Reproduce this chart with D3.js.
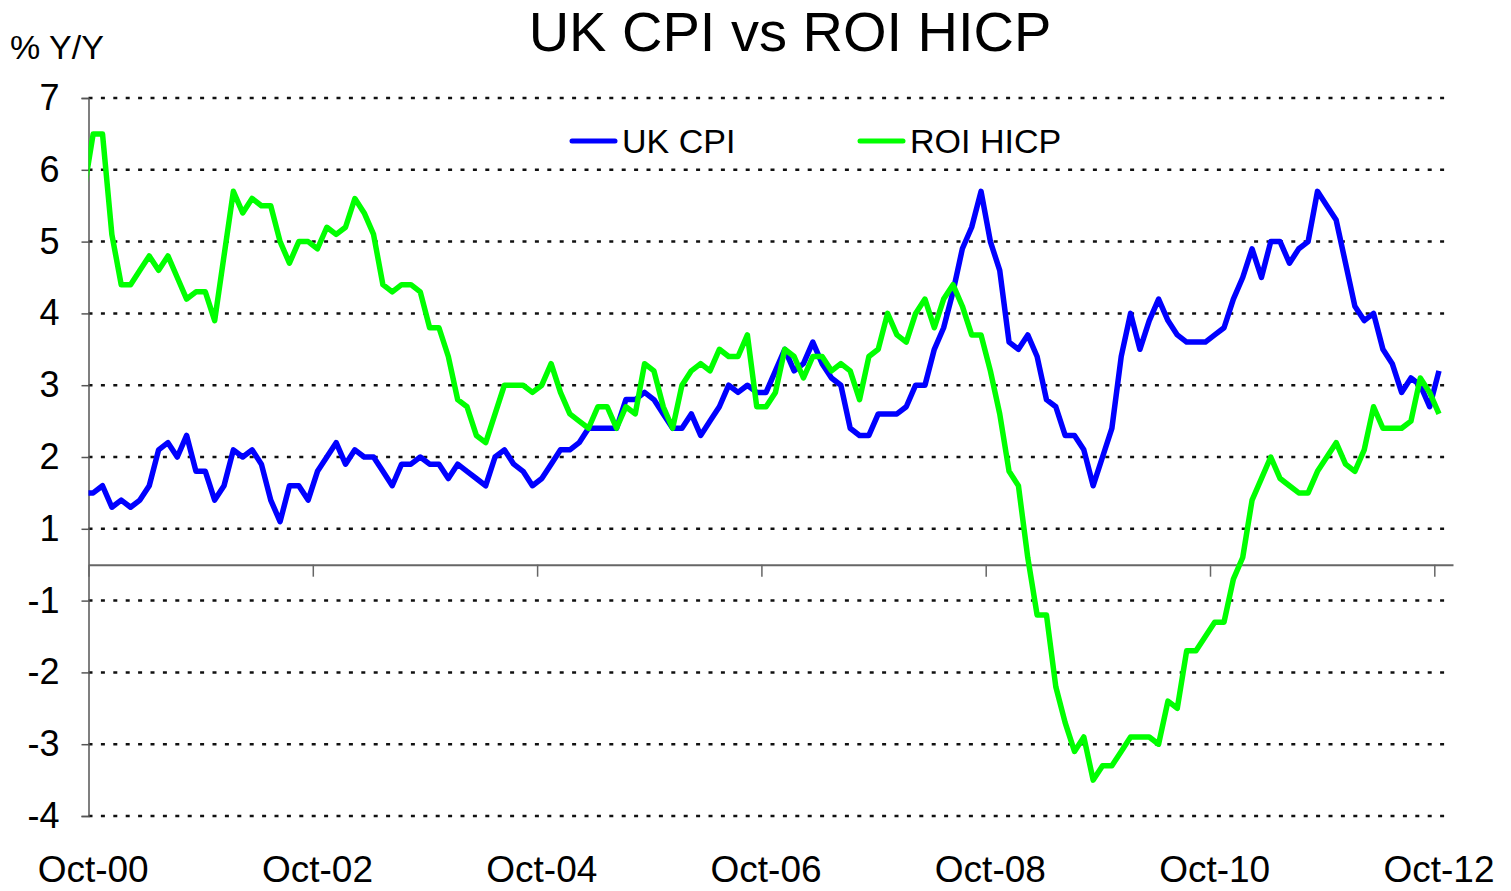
<!DOCTYPE html>
<html>
<head>
<meta charset="utf-8">
<script src="https://cdn.jsdelivr.net/npm/d3@7"></script>
<style>
  body { margin: 0; background: #fff; }
  svg { display: block; font-family: "Liberation Sans", Arial, sans-serif; }
</style>
</head>
<body>
<div id="container"></div>
<script>
// monthly series, first value is Sep-00 (partly hidden left of the axis), last is Oct-12
const ukCpi = [
  1.0,
  1.0, 1.1, 0.8, 0.9, 0.8, 0.9, 1.1, 1.6, 1.7, 1.5, 1.8, 1.3,
  1.3, 0.9, 1.1, 1.6, 1.5, 1.6, 1.4, 0.9, 0.6, 1.1, 1.1, 0.9,
  1.3, 1.5, 1.7, 1.4, 1.6, 1.5, 1.5, 1.3, 1.1, 1.4, 1.4, 1.5,
  1.4, 1.4, 1.2, 1.4, 1.3, 1.2, 1.1, 1.5, 1.6, 1.4, 1.3, 1.1,
  1.2, 1.4, 1.6, 1.6, 1.7, 1.9, 1.9, 1.9, 1.9, 2.3, 2.3, 2.4,
  2.3, 2.1, 1.9, 1.9, 2.1, 1.8, 2.0, 2.2, 2.5, 2.4, 2.5, 2.4,
  2.4, 2.7, 3.0, 2.7, 2.8, 3.1, 2.8, 2.6, 2.5, 1.9, 1.8, 1.8,
  2.1, 2.1, 2.1, 2.2, 2.5, 2.5, 3.0, 3.3, 3.8, 4.4, 4.7, 5.2,
  4.5, 4.1, 3.1, 3.0, 3.2, 2.9, 2.3, 2.2, 1.8, 1.8, 1.6, 1.1,
  1.5, 1.9, 2.9, 3.5, 3.0, 3.4, 3.7, 3.4, 3.2, 3.1, 3.1, 3.1,
  3.2, 3.3, 3.7, 4.0, 4.4, 4.0, 4.5, 4.5, 4.2, 4.4, 4.5, 5.2,
  5.0, 4.8, 4.2, 3.6, 3.4, 3.5, 3.0, 2.8, 2.4, 2.6, 2.5, 2.2,
  2.7
]
const roiHicp = [
  5.2,
  6.0, 6.0, 4.6, 3.9, 3.9, 4.1, 4.3, 4.1, 4.3, 4.0, 3.7, 3.8,
  3.8, 3.4, 4.3, 5.2, 4.9, 5.1, 5.0, 5.0, 4.5, 4.2, 4.5, 4.5,
  4.4, 4.7, 4.6, 4.7, 5.1, 4.9, 4.6, 3.9, 3.8, 3.9, 3.9, 3.8,
  3.3, 3.3, 2.9, 2.3, 2.2, 1.8, 1.7, 2.1, 2.5, 2.5, 2.5, 2.4,
  2.5, 2.8, 2.4, 2.1, 2.0, 1.9, 2.2, 2.2, 1.9, 2.2, 2.1, 2.8,
  2.7, 2.2, 1.9, 2.5, 2.7, 2.8, 2.7, 3.0, 2.9, 2.9, 3.2, 2.2,
  2.2, 2.4, 3.0, 2.9, 2.6, 2.9, 2.9, 2.7, 2.8, 2.7, 2.3, 2.9,
  3.0, 3.5, 3.2, 3.1, 3.5, 3.7, 3.3, 3.7, 3.9, 3.6, 3.2, 3.2,
  2.7, 2.1, 1.3, 1.1, 0.1, -0.7, -0.7, -1.7, -2.2, -2.6, -2.4, -3.0,
  -2.8, -2.8, -2.6, -2.4, -2.4, -2.4, -2.5, -1.9, -2.0, -1.2, -1.2, -1.0,
  -0.8, -0.8, -0.2, 0.1, 0.9, 1.2, 1.5, 1.2, 1.1, 1.0, 1.0, 1.3,
  1.5, 1.7, 1.4, 1.3, 1.6, 2.2, 1.9, 1.9, 1.9, 2.0, 2.6, 2.4,
  2.1
]
const seriesNames = ["UK CPI", "ROI HICP"]
const seriesColors = ["#0000ff", "#00ff00"]

// month offsets from Oct-00 for the labelled ticks
const xTicks = [0, 24, 48, 72, 96, 120, 144]
const xTickLabels = ["Oct-00", "Oct-02", "Oct-04", "Oct-06", "Oct-08", "Oct-10", "Oct-12"]
// gridlines sit at half units, the sheet showed them rounded
const yTicks = [6.5, 5.5, 4.5, 3.5, 2.5, 1.5, 0.5, -0.5, -1.5, -2.5, -3.5]
const yTickLabels = ["7", "6", "5", "4", "3", "2", "1", "-1", "-2", "-3", "-4"]

const width = 1511
const height = 891

const svg = d3.select("#container")
  .append("svg")
  .attr("width", width)
  .attr("height", height)

const x = d3.scaleLinear().domain([0, 146]).range([88.5, 1453])
const y = d3.scaleLinear().domain([-3.5, 6.5]).range([816, 98])

svg.append("defs").append("clipPath")
  .attr("id", "plot-clip")
  .append("rect")
  .attr("x", x(0)).attr("y", 0)
  .attr("width", x(146) - x(0)).attr("height", height)

// gridlines
svg.append("g")
  .selectAll("line")
  .data(yTicks)
  .join("line")
  .attr("x1", x(0))
  .attr("x2", x(146) - 3)
  .attr("y1", d => y(d))
  .attr("y2", d => y(d))
  .attr("stroke", "#111")
  .attr("stroke-width", 2.5)
  .attr("stroke-dasharray", "4 8.4")

// y axis
const yAxis = svg.append("g")
  .attr("transform", `translate(${x(0)},0)`)
  .call(d3.axisLeft(y)
    .tickValues(yTicks)
    .tickSize(7)
    .tickPadding(30)
    .tickFormat((d, i) => yTickLabels[i]))
yAxis.select(".domain").attr("stroke", "#555").attr("stroke-width", 1.5)
yAxis.selectAll(".tick line").attr("stroke", "#555").attr("stroke-width", 1.5)
yAxis.selectAll(".tick text")
  .attr("x", -29)
  .attr("font-size", 36)
  .attr("font-family", "Liberation Sans, Arial, sans-serif")
  .attr("fill", "#000")

// x axis at zero
const xAxis = svg.append("g")
  .attr("transform", `translate(0,${y(0)})`)
  .call(d3.axisBottom(x)
    .tickValues(xTicks)
    .tickSize(12)
    .tickSizeOuter(0)
    .tickFormat(""))
xAxis.select(".domain").attr("stroke", "#666").attr("stroke-width", 2)
xAxis.selectAll(".tick line").attr("stroke", "#666").attr("stroke-width", 1.5)

svg.append("g")
  .selectAll("text")
  .data(xTicks)
  .join("text")
  .attr("x", d => x(d + 0.5))
  .attr("y", 882)
  .attr("text-anchor", "middle")
  .attr("font-size", 37)
  .text((d, i) => xTickLabels[i])

// lines, point i sits in the middle of its month
const line = d3.line()
  .x((d, i) => x(i - 0.5))
  .y(d => y(d))

const lines = svg.append("g").attr("clip-path", "url(#plot-clip)")
;[ukCpi, roiHicp].forEach((s, k) => {
  lines.append("path")
    .datum(s)
    .attr("fill", "none")
    .attr("stroke", seriesColors[k])
    .attr("stroke-width", 5.5)
    .attr("stroke-linejoin", "round")
    .attr("d", line)
})

// legend
const legendX = [572, 860]
const legend = svg.append("g")
  .selectAll("g")
  .data(seriesNames)
  .join("g")
  .attr("transform", (d, i) => `translate(${legendX[i]},141)`)
legend.append("line")
  .attr("x1", 0).attr("x2", 43)
  .attr("stroke", (d, i) => seriesColors[i])
  .attr("stroke-width", 5)
  .attr("stroke-linecap", "round")
legend.append("text")
  .attr("x", 50)
  .attr("y", 12)
  .attr("font-size", 34)
  .text(d => d)

// titles
svg.append("text")
  .attr("x", 790)
  .attr("y", 51)
  .attr("text-anchor", "middle")
  .attr("font-size", 56)
  .text("UK CPI vs ROI HICP")

svg.append("text")
  .attr("x", 10)
  .attr("y", 59)
  .attr("font-size", 34)
  .text("% Y/Y")
</script>
</body>
</html>
